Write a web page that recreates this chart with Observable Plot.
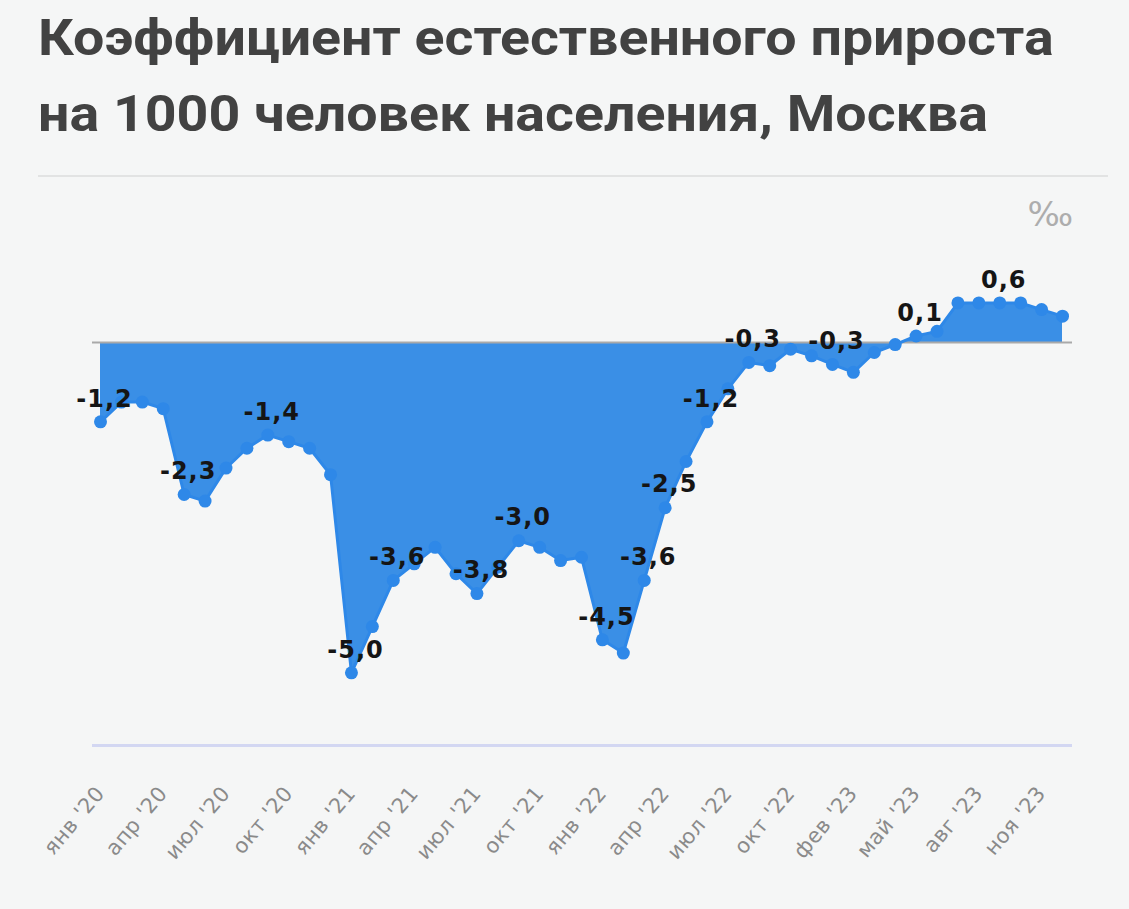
<!DOCTYPE html>
<html>
<head>
<meta charset="utf-8">
<script src="https://cdn.jsdelivr.net/npm/d3@7"></script>
<script src="https://cdn.jsdelivr.net/npm/@observablehq/plot@0.6"></script>
<style>
  html, body { margin: 0; padding: 0; background: #f5f6f6; }
  #wrap { position: relative; width: 1129px; height: 909px; overflow: hidden; background: #f5f6f6; }
  #title { position: absolute; left: 38px; top: 0px; font-family: Roboto, "Noto Sans", sans-serif; font-weight: 700; font-size: 50px; line-height: 76px; color: #424242; white-space: nowrap; transform: scaleX(1.11); transform-origin: 0 0; }
  #sep { position: absolute; left: 38px; top: 175px; width: 1070px; height: 2px; background: #e2e3e3; }
  #unit { position: absolute; right: 56px; top: 194px; font-family: "DejaVu Sans", sans-serif; font-size: 34px; color: #adadad; }
  #chart { position: absolute; left: 0; top: 180px; }
  #chart text.vlabel { letter-spacing: 1px; }
  #chart text.tlabel { letter-spacing: 0.5px; }
</style>
</head>
<body>
<div id="wrap">
  <div id="title">Коэффициент естественного прироста<br>на 1000 человек населения, Москва</div>
  <div id="sep"></div>
  <div id="unit">‰</div>
  <div id="chart"></div>
</div>
<script>
// Months (January 2023 is absent in the source series)
const periods = [
  "янв '20","фев '20","мар '20","апр '20","май '20","июн '20","июл '20","авг '20","сен '20","окт '20","ноя '20","дек '20",
  "янв '21","фев '21","мар '21","апр '21","май '21","июн '21","июл '21","авг '21","сен '21","окт '21","ноя '21","дек '21",
  "янв '22","фев '22","мар '22","апр '22","май '22","июн '22","июл '22","авг '22","сен '22","окт '22","ноя '22","дек '22",
  "фев '23","мар '23","апр '23","май '23","июн '23","июл '23","авг '23","сен '23","окт '23","ноя '23","дек '23"
];
// Natural increase per 1000 population, ‰
const values = [
  -1.2, -0.9, -0.9, -1.0, -2.3, -2.4, -1.9, -1.6, -1.4, -1.5, -1.6, -2.0,
  -5.0, -4.3, -3.6, -3.35, -3.1, -3.5, -3.8, -3.4, -3.0, -3.1, -3.3, -3.25,
  -4.5, -4.7, -3.6, -2.5, -1.8, -1.2, -0.7, -0.3, -0.35, -0.1, -0.2, -0.33,
  -0.45, -0.15, -0.03, 0.1, 0.17, 0.6, 0.6, 0.6, 0.6, 0.5, 0.4
];
// Points that carry a value label
const labeledIdx = [0, 4, 8, 12, 14, 18, 20, 24, 26, 27, 29, 31, 35, 39, 43];
// x-axis tick positions (every third point)
const tickIdx = [0, 3, 6, 9, 12, 15, 18, 21, 24, 27, 30, 33, 36, 39, 42, 45];

const yMin = -6.1, yMax = 2.0;
const blue = "#3a8fe6";

const data = values.map((v, i) => ({i, v, period: periods[i]}));
const labeled = labeledIdx.map(i => data[i]);
const fmt = v => v.toFixed(1).replace(".", ",");

const chart = Plot.plot({
  width: 1129,
  height: 720,
  marginLeft: 100,
  marginRight: 67,
  marginTop: 30,
  marginBottom: 155,
  style: {background: "transparent", fontFamily: "'DejaVu Sans', sans-serif", fontSize: "21px", color: "#8a8a8a", overflow: "visible"},
  x: {domain: [0, periods.length - 1], ticks: tickIdx, tickFormat: i => periods[i], tickRotate: -50, tickSize: 0, tickPadding: 44, label: null},
  y: {domain: [yMin, yMax], axis: null},
  marks: [
    Plot.areaY(data, {x: "i", y: "v", fill: blue, fillOpacity: 1}),
    Plot.ruleY([0], {stroke: "#a9a9a9", strokeWidth: 2, insetLeft: -8, insetRight: -10}),
    Plot.ruleY([yMin], {stroke: "#d3d7f2", strokeWidth: 3, insetLeft: -8, insetRight: -10}),
    Plot.line(data, {x: "i", y: "v", stroke: "#2e88e8", strokeWidth: 3}),
    Plot.dot(data, {x: "i", y: "v", r: 6.5, fill: "#2e88e8", stroke: "none"}),
    Plot.text(labeled, {x: "i", y: "v", text: d => fmt(d.v), dy: -23, dx: 4, fontSize: 24, fontWeight: "bold", fill: "#151515", fontFamily: "'DejaVu Sans', sans-serif"})
  ]
});
d3.select(chart).selectAll("g[aria-label='text'] text").attr("class", "vlabel");
d3.select(chart).selectAll("g[aria-label='x-axis tick label'] text, g[aria-label='x-axis'] text").attr("class", "tlabel");
document.getElementById("chart").appendChild(chart);
</script>
</body>
</html>
